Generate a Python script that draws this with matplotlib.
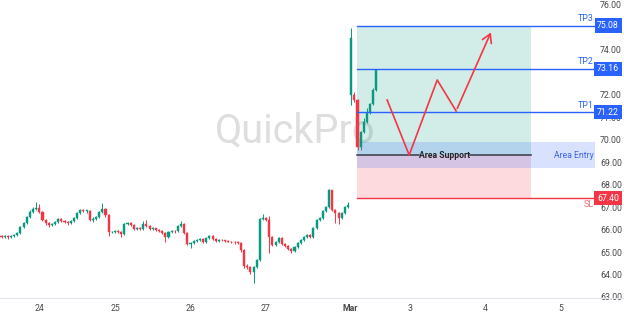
import matplotlib
matplotlib.use("Agg")
import matplotlib.pyplot as plt
from matplotlib.patches import Rectangle
from matplotlib.lines import Line2D

plt.rcParams["font.family"] = ["Roboto", "DejaVu Sans"]

# ---------------- data ----------------
opens = [65.70, 65.67, 65.72, 65.67, 65.72, 65.76, 65.85, 66.12, 66.30, 66.56,
         66.78, 66.92, 66.96, 66.78, 66.43, 66.30, 66.21, 66.25, 66.34, 66.47,
         66.38, 66.34, 66.30, 66.38, 66.52, 66.74, 66.87, 66.83, 66.83, 66.43,
         66.47, 66.56, 66.78, 66.92, 66.65, 65.89, 65.89, 65.94, 65.89, 65.80,
         66.25, 66.30, 66.21, 66.03, 66.08, 66.03, 66.25, 66.16, 66.03, 66.05,
         65.99, 65.94, 65.85, 65.67, 65.89, 65.94, 65.92, 66.16, 66.25, 65.85,
         65.36, 65.40, 65.49, 65.54, 65.58, 65.45, 65.63, 65.72, 65.58, 65.49,
         65.54, 65.52, 65.49, 65.47, 65.45, 65.43, 65.40, 65.09, 64.38, 64.33,
         64.11, 64.33, 64.65, 66.47, 66.50, 66.43, 65.67, 65.31, 65.45, 65.63,
         65.36, 65.27, 65.14, 65.05, 65.23, 65.40, 65.54, 65.67, 65.76, 65.67,
         66.08, 66.43, 66.52, 66.83, 67.01, 67.76, 66.87, 66.74, 66.52, 66.74,
         67.01,
         71.99, 71.99, 71.77, 69.68, 70.35, 70.79, 71.19, 71.59, 72.22]
closes = [65.67, 65.72, 65.67, 65.72, 65.76, 65.85, 66.12, 66.30, 66.56, 66.78,
          66.92, 66.96, 66.78, 66.43, 66.30, 66.21, 66.25, 66.34, 66.47, 66.38,
          66.34, 66.30, 66.38, 66.52, 66.74, 66.87, 66.83, 66.83, 66.43, 66.47,
          66.56, 66.78, 66.92, 66.65, 65.89, 65.89, 65.94, 65.89, 65.80, 66.25,
          66.30, 66.21, 66.03, 66.08, 66.03, 66.25, 66.16, 66.03, 66.05, 65.99,
          65.94, 65.85, 65.67, 65.89, 65.94, 65.92, 66.16, 66.25, 65.85, 65.36,
          65.40, 65.49, 65.54, 65.58, 65.45, 65.63, 65.72, 65.58, 65.49, 65.54,
          65.52, 65.49, 65.47, 65.45, 65.43, 65.40, 65.09, 64.38, 64.33, 64.11,
          64.33, 64.65, 66.47, 66.50, 66.43, 65.67, 65.31, 65.45, 65.63, 65.36,
          65.27, 65.14, 65.05, 65.23, 65.40, 65.54, 65.67, 65.76, 65.67, 66.08,
          66.43, 66.52, 66.83, 67.01, 67.76, 66.87, 66.74, 66.52, 66.74, 67.01,
          67.10,
          74.53, 71.77, 69.68, 70.35, 70.79, 71.19, 71.59, 72.22, 73.11]
highs = [65.76, 65.78, 65.75, 65.76, 65.82, 65.90, 66.18, 66.36, 66.62, 66.86,
         67.00, 67.23, 67.15, 66.82, 66.48, 66.35, 66.30, 66.38, 66.52, 66.50,
         66.42, 66.38, 66.42, 66.58, 66.80, 66.92, 66.90, 66.88, 66.86, 66.55,
         66.62, 66.84, 67.18, 66.95, 66.70, 65.95, 66.00, 65.98, 65.93, 66.30,
         66.35, 66.34, 66.25, 66.12, 66.11, 66.40, 66.42, 66.20, 66.10, 66.09,
         66.03, 65.98, 65.90, 65.94, 65.98, 65.98, 66.22, 66.40, 66.30, 65.88,
         65.45, 65.54, 65.58, 65.63, 65.62, 65.67, 65.78, 65.76, 65.62, 65.58,
         65.58, 65.55, 65.53, 65.51, 65.50, 65.48, 65.44, 65.12, 64.45, 64.40,
         64.38, 64.70, 66.52, 66.70, 66.56, 66.61, 65.72, 65.50, 65.68, 65.66,
         65.40, 65.30, 65.18, 65.28, 65.44, 65.58, 65.72, 65.81, 65.80, 66.12,
         66.48, 66.58, 66.88, 67.06, 67.81, 67.78, 66.92, 66.78, 66.78, 67.06,
         67.22,
         74.98, 72.13, 71.80, 70.40, 70.95, 71.40, 71.65, 72.30, 73.16]
lows = [65.62, 65.63, 65.60, 65.62, 65.68, 65.70, 65.80, 66.06, 66.25, 66.50,
        66.72, 66.85, 66.72, 66.38, 66.22, 66.12, 66.15, 66.20, 66.30, 66.33,
        66.28, 66.22, 66.25, 66.34, 66.48, 66.70, 66.78, 66.76, 66.38, 66.35,
        66.42, 66.52, 66.74, 66.58, 65.72, 65.84, 65.85, 65.83, 65.67, 65.76,
        66.20, 66.16, 65.98, 65.99, 65.98, 65.99, 66.10, 65.98, 65.98, 65.94,
        65.88, 65.80, 65.45, 65.62, 65.85, 65.87, 65.88, 66.12, 65.80, 65.30,
        65.18, 65.35, 65.44, 65.49, 65.40, 65.42, 65.58, 65.54, 65.45, 65.45,
        65.48, 65.45, 65.43, 65.40, 65.38, 65.35, 65.02, 64.30, 64.25, 64.02,
        63.62, 64.28, 64.60, 66.42, 66.38, 64.96, 65.26, 65.27, 65.40, 65.31,
        65.22, 65.10, 64.96, 65.00, 65.19, 65.36, 65.50, 65.62, 65.62, 65.62,
        66.02, 66.38, 66.48, 66.78, 66.96, 66.82, 66.30, 66.25, 66.47, 66.70,
        66.96,
        71.55, 71.68, 69.54, 69.54, 70.30, 70.74, 71.14, 71.55, 72.18]

x_tick_pos = [12.2, 36.2, 60.0, 83.9, 110.6, 129.7, 153.5, 177.6]
x_tick_labels = ["24", "25", "26", "27", "Mar", "3", "4", "5"]

tp_levels = [71.22, 73.16, 75.08]
tp_names = ["TP1", "TP2", "TP3"]
sl_level = 67.40
support_level = 69.32
entry_low, entry_high = 68.74, 69.90

path_x = [122.4, 129.4, 138.3, 144.3, 155.7]
path_y = [71.77, 69.32, 72.66, 71.28, 74.89]

# ---------------- style ----------------
GREEN = "#089981"
RED = "#f23645"
BLUE = "#2962ff"
TXT = "#4a4a4a"

fig = plt.figure(figsize=(6.24, 3.16), dpi=100)
W, H = 624, 316
ax = fig.add_axes([0, 18 / H, 596 / W, 298 / H])
ax.set_xlim(-0.48, 188.7)
ax.set_ylim(62.955, 76.22)
for s in ax.spines.values():
    s.set_visible(False)

# watermark
ax.text(0.495, 0.56, "QuickPro", transform=ax.transAxes, ha="center", va="center",
        fontsize=28.5, color="#dedede", zorder=0)

# candles
n = len(closes)
for i in range(n):
    o, c, h, l = opens[i], closes[i], highs[i], lows[i]
    col = GREEN if c >= o else RED
    ax.vlines(i, l, h, color=col, linewidth=0.7, zorder=3)
    ax.add_patch(Rectangle((i - 0.33, min(o, c)), 0.66, max(abs(c - o), 0.02),
                           facecolor=col, edgecolor=col, linewidth=0.3, zorder=3))

# plan zones
x0, x1 = 112.9, 168.1
xr = 188.4
ax.add_patch(Rectangle((x0, support_level), x1 - x0, tp_levels[2] - support_level,
                       facecolor=GREEN, alpha=0.18, edgecolor="none", zorder=2))
ax.add_patch(Rectangle((x0, sl_level), x1 - x0, support_level - sl_level,
                       facecolor=RED, alpha=0.18, edgecolor="none", zorder=2))
ax.add_patch(Rectangle((x0, entry_low), xr - x0, entry_high - entry_low,
                       facecolor=BLUE, alpha=0.18, edgecolor="none", zorder=2))

for lvl, name in zip(tp_levels, tp_names):
    ax.plot([x0, 188.7], [lvl, lvl], color=BLUE, linewidth=1.0, zorder=4)
    ax.text(187.9, lvl + 0.1, name, ha="right", va="bottom", fontsize=6.3,
            color=BLUE, zorder=5)
    ax.annotate(f"{lvl:.2f}", xy=(1.0 + 12 / 596, lvl), xycoords=("axes fraction", "data"),
                ha="center", va="center", fontsize=6.3, color="white", zorder=10,
                annotation_clip=False,
                bbox=dict(boxstyle="square,pad=0.3", fc=BLUE, ec="none"))

ax.plot([x0, 188.7], [sl_level, sl_level], color=RED, linewidth=1.0, zorder=4)
ax.text(187.9, sl_level - 0.1, "SL", ha="right", va="top", fontsize=6.5,
        color="#f0707b", zorder=5)
ax.annotate(f"{sl_level:.2f}", xy=(1.0 + 12 / 596, sl_level), xycoords=("axes fraction", "data"),
            ha="center", va="center", fontsize=6.3, color="white", zorder=10,
            annotation_clip=False,
            bbox=dict(boxstyle="square,pad=0.3", fc=RED, ec="none"))

# support line with label gap
ax.plot([x0, 132.4], [support_level, support_level], color="#363a45", linewidth=1.1, zorder=4)
ax.plot([148.6, x1], [support_level, support_level], color="#363a45", linewidth=1.1, zorder=4)
ax.text(140.5, support_level, "Area Support", ha="center", va="center", fontsize=6.2,
        fontweight="bold", color="#222222", zorder=5)
ax.text(187.9, support_level, "Area Entry", ha="right", va="center",
        fontsize=6.2, color="#3d63e6", zorder=5)

# zigzag projection
ax.plot(path_x[:-1], path_y[:-1], color=RED, linewidth=1.2, zorder=6)
ax.annotate("", xy=(path_x[-1], path_y[-1]), xytext=(path_x[-2], path_y[-2]),
            arrowprops=dict(arrowstyle="->,head_length=0.6,head_width=0.35",
                            color=RED, linewidth=1.2), zorder=6)

# axes ticks
ax.set_xticks(x_tick_pos)
ax.set_xticklabels(x_tick_labels)
for lab in ax.get_xticklabels():
    if lab.get_text() == "Mar":
        lab.set_fontweight("bold")
ax.tick_params(axis="x", length=0, pad=4, labelsize=6.3, colors=TXT)
ax.yaxis.tick_right()
yt = list(range(63, 77))
ax.set_yticks(yt)
ax.set_yticklabels([f"{v:.2f}" for v in yt])
ax.tick_params(axis="y", length=0, pad=3, labelsize=6.3, colors=TXT)

fig.add_artist(Line2D([0, 1], [18 / H, 18 / H], color="#e0e3eb", linewidth=0.8,
                      transform=fig.transFigure))

fig.savefig("out.png", dpi=100, facecolor="white")
